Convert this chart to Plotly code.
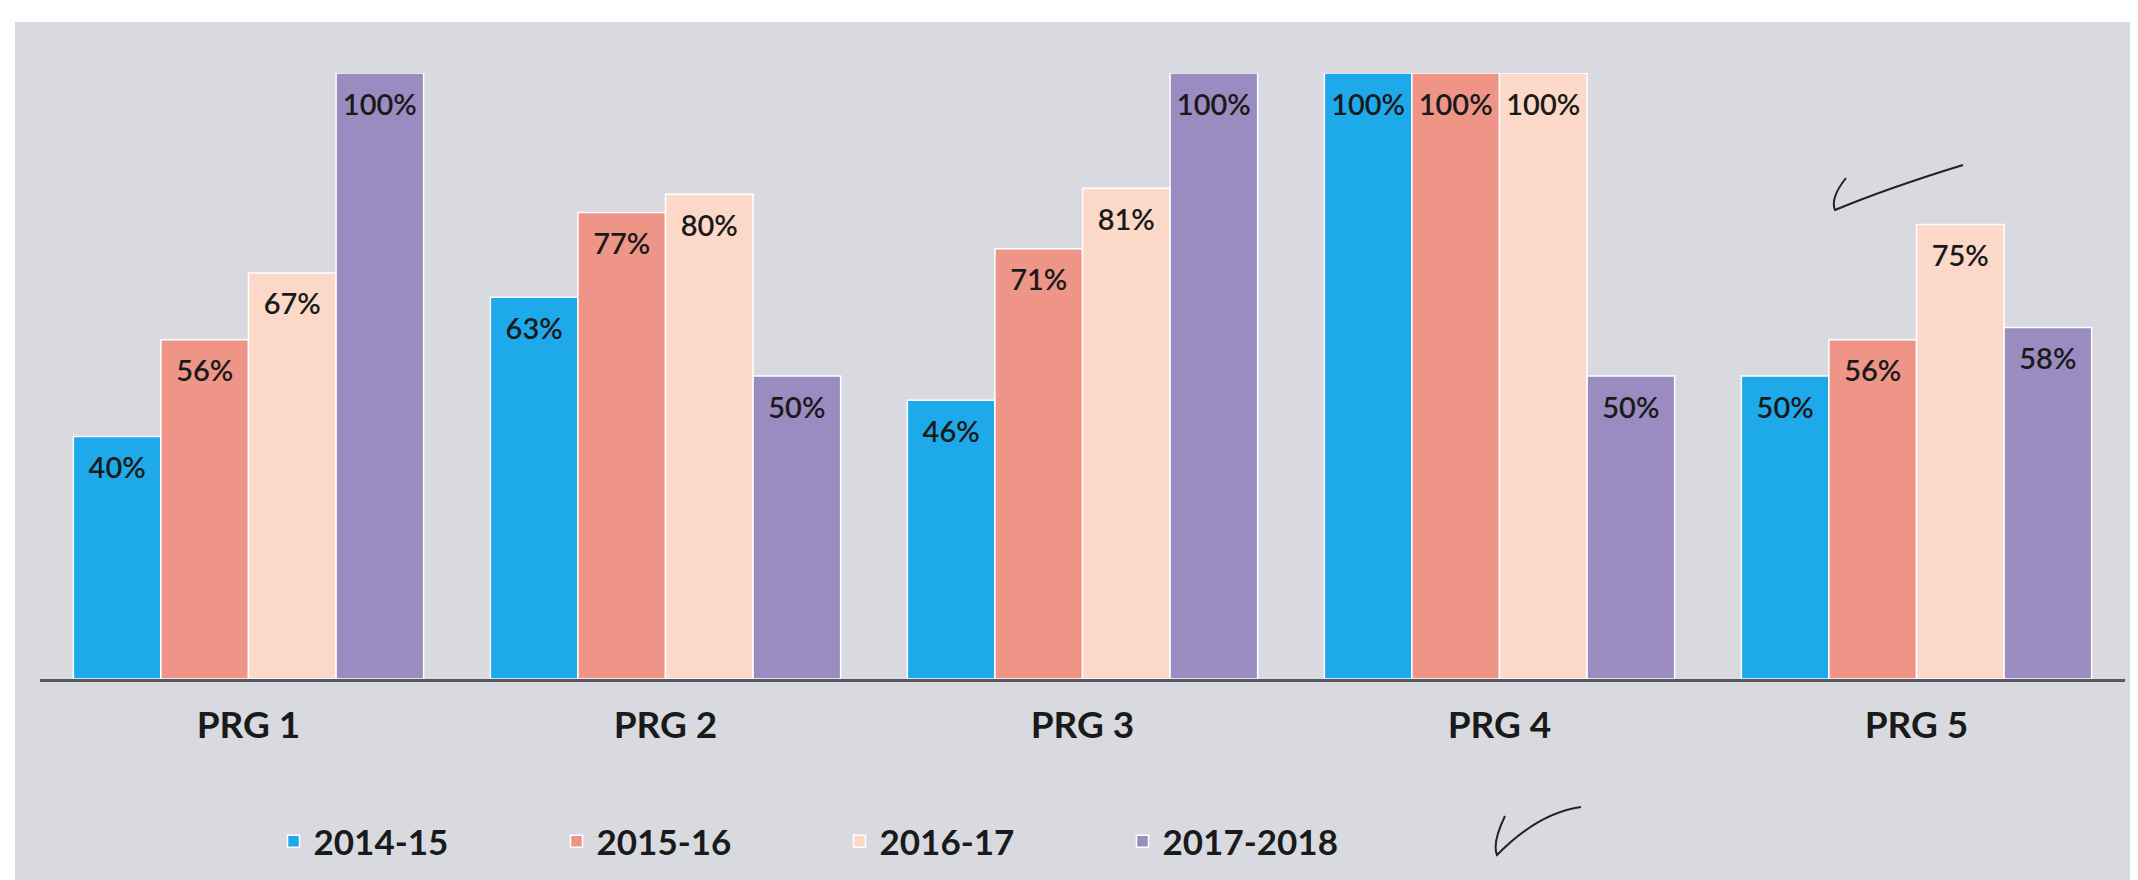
import plotly.graph_objects as go

programs = ["PRG 1", "PRG 2", "PRG 3", "PRG 4", "PRG 5"]
years = ["2014-15", "2015-16", "2016-17", "2017-2018"]
v_2014_15 = [40, 63, 46, 100, 50]
v_2015_16 = [56, 77, 71, 100, 56]
v_2016_17 = [67, 80, 81, 100, 75]
v_2017_18 = [100, 50, 100, 50, 58]

series = [v_2014_15, v_2015_16, v_2016_17, v_2017_18]
colors = ["#1ea9ea", "#ef9588", "#fbd8c8", "#9a8bc1"]

W, H = 2138, 880
ML, MR, MT, MB = 32, 21, 65, 209
PW, PH = W - ML - MR, H - MT - MB


def px(x, y):
    # page pixel -> paper coords
    return (x - ML) / PW, (H - MB - y) / PH


def path(pts):
    (x0, y0), (cx, cy), (x1, y1), (dx, dy), (x2, y2) = [px(*p) for p in pts]
    return f"M{x0},{y0} Q{cx},{cy} {x1},{y1} Q{dx},{dy} {x2},{y2}"


fig = go.Figure()
for i, (name, vals, col) in enumerate(zip(years, series, colors)):
    fig.add_trace(go.Bar(
        x=programs, y=vals, name=name, offsetgroup=str(i),
        marker=dict(color=col, line=dict(color="white", width=1.5)),
    ))
# value labels sit a little below each bar top
for i, vals in enumerate(series):
    fig.add_trace(go.Scatter(
        x=programs, y=vals, mode="markers+text", offsetgroup=str(i),
        marker=dict(size=30, opacity=0),
        text=[f"{v}%" for v in vals], textposition="bottom center",
        textfont=dict(family="Lato", size=29, color="#1a1a1a", weight=600),
        showlegend=False, hoverinfo="skip", cliponaxis=False,
    ))

# scanned page: white edge around the grey chart area
gx0, gy0 = px(7, 14)
gx1, gy1 = px(2132, 874)
shapes = [dict(type="rect", xref="paper", yref="paper", x0=gx0, y0=gy0, x1=gx1, y1=gy1,
               fillcolor="#d8dae0", line=dict(width=0), layer="below")]
# handwritten ticks
for pts in ([(1838, 170), (1822, 190), (1827, 202), (1880, 180), (1955, 157)],
            [(1497, 808), (1484, 835), (1489, 847), (1530, 805), (1573, 799)]):
    shapes.append(dict(type="path", xref="paper", yref="paper", path=path(pts),
                       line=dict(color="#222222", width=2)))

fig.update_layout(
    barmode="group", bargap=0.16, bargroupgap=0.0,
    scattermode="group", scattergap=0.16,
    paper_bgcolor="white", plot_bgcolor="#d8dae0",
    width=W, height=H,
    margin=dict(l=ML, r=MR, t=MT, b=MB),
    showlegend=True,
    shapes=shapes,
    legend=dict(
        orientation="h", x=0.112, y=-0.268, xanchor="left", yanchor="middle",
        font=dict(family="Lato", size=35, color="#1a1a1a", weight="bold"),
        entrywidth=238, entrywidthmode="pixels", itemwidth=30,
        bgcolor="rgba(0,0,0,0)",
    ),
)
fig.update_xaxes(
    showline=True, linecolor="#55585e", linewidth=3,
    tickfont=dict(family="Lato", size=37, color="#1a1a1a", weight="bold"),
    ticks="", ticklabelstandoff=12, showgrid=False,
)
fig.update_yaxes(range=[0, 100], visible=False, showgrid=False)

fig.write_html("out.html")
